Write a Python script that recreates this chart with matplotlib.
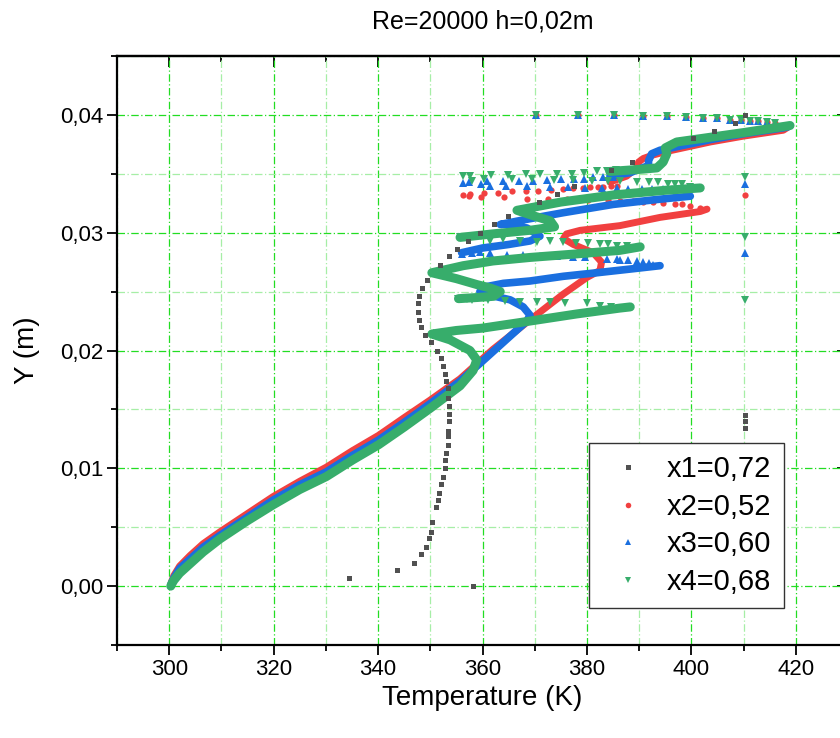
import numpy as np
import matplotlib
matplotlib.use("Agg")
import matplotlib.pyplot as plt
from matplotlib.ticker import MultipleLocator, FuncFormatter
from matplotlib.lines import Line2D

plt.rcParams['font.family'] = ['Liberation Sans', 'DejaVu Sans']

# ─── data (T in K, Y in m) ──────────────────────────────────────────────
# x1 = 0,72 : sparse squares
x1_T = [334.4, 343.6, 346.8, 348.2, 349.1, 349.8, 350.1, 350.4, 351.0, 351.4, 351.7,
        352.1, 352.4, 352.8, 352.9, 353.1, 353.3, 353.4, 353.4, 353.5, 353.5, 353.5,
        353.4, 353.3, 353.0, 352.8, 352.5, 352.0, 351.2, 350.1, 349.0, 348.2, 347.8,
        347.6, 347.6, 347.9, 348.5, 349.3, 351.9, 353.5, 355.2, 357.3, 359.5, 362.2,
        364.8, 370.9, 374.2, 377.5, 384.7, 388.7, 400.4, 404.4, 408.4, 410.3,
        358.2, 410.2, 410.2, 410.2]
x1_Y = [0.0007, 0.0014, 0.0020, 0.0027, 0.0033, 0.0041, 0.0046, 0.0054, 0.0067, 0.0073, 0.0079,
        0.0087, 0.0093, 0.0100, 0.0107, 0.0113, 0.0120, 0.0127, 0.0132, 0.0140, 0.0146, 0.0153,
        0.0160, 0.0168, 0.0174, 0.0180, 0.0187, 0.0194, 0.0200, 0.0207, 0.0213, 0.0220, 0.0226,
        0.0233, 0.0240, 0.0246, 0.0253, 0.0260, 0.0273, 0.0280, 0.0286, 0.0293, 0.0300, 0.0307,
        0.0314, 0.0326, 0.0333, 0.0340, 0.0353, 0.0360, 0.0380, 0.0386, 0.0393, 0.0400,
        0.0000, 0.0145, 0.0140, 0.0134]

# row of sparse points near Y = 0,04 (shared by x2, x3, x4)
top_T = [370.2, 378.2, 385.2, 390.7, 395.3, 399.0, 402.3, 405.0, 407.4, 409.5, 411.2, 412.8, 414.4, 416.0]
top_Y = [0.0400, 0.0400, 0.0400, 0.0399, 0.0399, 0.0398, 0.0397, 0.0397, 0.0396, 0.0396, 0.0395, 0.0395, 0.0394, 0.0393]

# x2 = 0,52 : dense parts
x2_b1_T = [300.3, 300.4, 300.9, 302.0, 304.0, 306.5, 309.7, 314.8, 319.9, 325.0, 330.1, 335.1, 340.1,
           345.0, 350.0, 355.7, 362.0, 369.1, 375.5, 380.0, 382.5, 382.8, 381.2, 377.4, 375.5,
           376.1, 378.7, 386.3, 394.0, 401.7, 403.0]
x2_b1_Y = [0.0000, 0.0003, 0.0009, 0.0017, 0.0026, 0.0036, 0.0046, 0.0061, 0.0076, 0.0089, 0.0101, 0.0115, 0.0128,
           0.0143, 0.0158, 0.0176, 0.0201, 0.0226, 0.0248, 0.0262, 0.0268, 0.0275, 0.0283, 0.0290, 0.0295,
           0.0299, 0.0302, 0.0306, 0.0313, 0.0318, 0.0320]
x2_b2_T = [384.4, 387.6, 389.5, 389.9, 390.8, 392.7, 395.3, 403.6, 410.0, 417.6, 418.3]
x2_b2_Y = [0.0343, 0.0348, 0.0355, 0.0360, 0.0363, 0.0366, 0.0369, 0.0377, 0.0382, 0.0387, 0.0389]
# x2 sparse points
x2_pts_T = [401.7, 399.8, 398.2, 396.9, 394.6, 392.7, 390.8, 388.9, 386.3, 384.0, 380.2, 376.2, 372.5,
            368.5, 364.1, 359.8, 357.5, 356.3,
            357.6, 360.3, 363.0, 365.6, 368.3, 370.7, 373.1, 375.4, 377.4, 379.2, 380.6, 382.2,
            383.1, 384.7, 385.7, 410.2]
x2_pts_Y = [0.0321, 0.0323, 0.0324, 0.0324, 0.0325, 0.0326, 0.0326, 0.0327, 0.0327, 0.0328, 0.0328, 0.0329, 0.0329,
            0.0329, 0.0330, 0.0330, 0.0331, 0.0332,
            0.0333, 0.0334, 0.0334, 0.0335, 0.0335, 0.0335, 0.0336, 0.0337, 0.0338, 0.0338, 0.0339, 0.0339,
            0.0339, 0.0340, 0.0340, 0.0332]

# x3 = 0,60 : dense parts
x3_b1_T = [300.3, 300.4, 300.9, 302.0, 304.0, 306.5, 309.7, 314.8, 319.9, 325.0, 330.1, 335.1, 340.1,
           345.0, 350.0, 355.7, 359.5, 364.0, 368.5, 369.1, 367.8, 365.3, 361.4, 359.5, 360.5,
           364.0, 369.1, 375.5, 381.9, 388.0, 394.0]
x3_b1_Y = [0.0000, 0.0002, 0.0007, 0.0015, 0.0023, 0.0033, 0.0043, 0.0058, 0.0073, 0.0086, 0.0097, 0.0111, 0.0124,
           0.0139, 0.0155, 0.0174, 0.0189, 0.0207, 0.0225, 0.0230, 0.0237, 0.0243, 0.0247, 0.0250, 0.0254,
           0.0257, 0.0259, 0.0263, 0.0266, 0.0269, 0.0272]
x3_b2_T = [356.0, 360.0, 365.0, 369.1, 371.0, 368.5, 364.6, 363.4, 368.0, 375.5, 385.0, 393.0, 399.8]
x3_b2_Y = [0.0283, 0.0287, 0.0290, 0.0293, 0.0297, 0.0304, 0.0307, 0.0307, 0.0311, 0.0317, 0.0324, 0.0328, 0.0331]
x3_b3_T = [384.4, 388.3, 391.8, 391.8, 392.4, 394.0, 403.6, 410.0, 417.6, 418.6]
x3_b3_Y = [0.0348, 0.0351, 0.0357, 0.0361, 0.0367, 0.0370, 0.0379, 0.0384, 0.0389, 0.0390]
# x3 sparse points
x3_pts_T = [392.7, 391.8, 390.8, 389.5, 387.9, 386.3, 385.7, 383.8, 379.6, 377.4, 374.2, 371.0,
            367.8, 364.6, 361.4, 359.5, 357.9, 356.0,
            398.2, 396.2, 394.6, 392.4, 390.5, 387.9, 385.7, 382.8, 379.6, 376.3, 373.0, 368.6,
            364.5, 361.4, 359.8, 356.3,
            357.5, 360.9, 364.0, 366.9, 369.7, 372.4, 375.0, 377.5, 379.4, 381.2, 383.1, 384.9,
            410.2, 410.2]
x3_pts_Y = [0.0273, 0.0274, 0.0275, 0.0276, 0.0277, 0.0277, 0.0278, 0.0278, 0.0279, 0.0279, 0.0280, 0.0280,
            0.0281, 0.0281, 0.0283, 0.0284, 0.0283, 0.0282,
            0.0337, 0.0337, 0.0337, 0.0337, 0.0337, 0.0337, 0.0338, 0.0338, 0.0338, 0.0339, 0.0339, 0.0340,
            0.0340, 0.0340, 0.0341, 0.0342,
            0.0343, 0.0344, 0.0344, 0.0344, 0.0344, 0.0345, 0.0346, 0.0346, 0.0346, 0.0347, 0.0347, 0.0347,
            0.0341, 0.0283]

# x4 = 0,68 : dense parts
x4_b1_T = [300.3, 300.5, 300.9, 302.0, 304.0, 306.5, 309.7, 314.8, 319.9, 325.0, 330.1, 335.1, 340.1,
           345.0, 350.0, 355.7, 358.2, 358.9, 357.6, 353.8, 350.3, 355.0, 360.0, 369.1, 378.0,
           386.3, 388.3]
x4_b1_Y = [0.0000, 0.0002, 0.0005, 0.0011, 0.0019, 0.0029, 0.0040, 0.0055, 0.0069, 0.0082, 0.0093, 0.0107, 0.0120,
           0.0135, 0.0151, 0.0170, 0.0183, 0.0192, 0.0200, 0.0209, 0.0214, 0.0217, 0.0219, 0.0225, 0.0231,
           0.0236, 0.0237]
x4_b2_T = [355.4, 359.0, 362.1, 363.4, 361.5, 358.9, 355.0, 350.3, 356.3, 362.0, 369.1, 378.0, 386.3, 390.2]
x4_b2_Y = [0.0244, 0.0245, 0.0246, 0.0250, 0.0253, 0.0256, 0.0261, 0.0266, 0.0272, 0.0276, 0.0279, 0.0282, 0.0285, 0.0288]
x4_b3_T = [355.7, 362.0, 369.0, 373.8, 373.0, 370.0, 366.6, 375.0, 385.0, 395.0, 401.7]
x4_b3_Y = [0.0296, 0.0299, 0.0302, 0.0305, 0.0310, 0.0314, 0.0319, 0.0326, 0.0332, 0.0336, 0.0338]
x4_b4_T = [384.4, 387.6, 390.8, 393.4, 394.6, 395.3, 395.0, 397.2, 403.6, 410.0, 418.9]
x4_b4_Y = [0.0352, 0.0353, 0.0354, 0.0355, 0.0360, 0.0367, 0.0372, 0.0377, 0.0381, 0.0385, 0.0391]
# x4 sparse points
x4_pts_T = [386.3, 384.7, 382.5, 380.0, 375.8, 372.9, 370.4, 367.2, 364.3, 361.1, 357.9, 357.0, 355.4,
            387.6, 385.7, 384.1, 382.5, 380.3, 378.0, 375.5, 372.9, 370.4, 367.2, 364.0, 361.4,
            359.8, 357.0, 355.7,
            399.8, 398.2, 396.9, 395.6, 393.7, 391.8, 389.5, 386.3, 384.1, 380.9, 377.4, 373.6,
            369.4, 365.6, 357.9, 356.3,
            357.6, 360.2, 361.6, 364.9, 368.3, 371.0, 374.2, 377.1, 379.4, 381.9, 383.8, 385.6,
            410.2, 410.2, 410.2]
x4_pts_Y = [0.0236, 0.0237, 0.0238, 0.0240, 0.0240, 0.0241, 0.0241, 0.0241, 0.0242, 0.0243, 0.0243, 0.0244, 0.0244,
            0.0289, 0.0289, 0.0290, 0.0290, 0.0291, 0.0291, 0.0292, 0.0293, 0.0292, 0.0293, 0.0295, 0.0293,
            0.0297, 0.0295, 0.0296,
            0.0339, 0.0341, 0.0341, 0.0341, 0.0343, 0.0343, 0.0343, 0.0344, 0.0344, 0.0344, 0.0345, 0.0345,
            0.0346, 0.0346, 0.0344, 0.0348,
            0.0348, 0.0346, 0.0349, 0.0349, 0.0350, 0.0350, 0.0350, 0.0350, 0.0351, 0.0352, 0.0352, 0.0353,
            0.0347, 0.0296, 0.0243]

labels = ["x1=0,72", "x2=0,52", "x3=0,60", "x4=0,68"]
C_K, C_R, C_B, C_G = "#515151", "#F14040", "#1A6FDF", "#37AD6B"

# ─── figure ──────────────────────────────────────────────────────────────
fig = plt.figure(figsize=(8.4, 7.38), dpi=100)
ax = fig.add_axes([117/840, 93/738, 731/840, 589/738])

band = dict(solid_capstyle="round", solid_joinstyle="round")
# x2 (red)
for t, y in [(x2_b1_T, x2_b1_Y), (x2_b2_T, x2_b2_Y)]:
    ax.plot(t, y, color=C_R, lw=5, zorder=2, **band)
ax.plot(x2_pts_T, x2_pts_Y, "o", color=C_R, ms=4.5, mew=0, zorder=2)
ax.plot(top_T, top_Y, "o", color=C_R, ms=4.5, mew=0, zorder=2)
# x3 (blue)
for t, y in [(x3_b1_T, x3_b1_Y), (x3_b2_T, x3_b2_Y), (x3_b3_T, x3_b3_Y)]:
    ax.plot(t, y, color=C_B, lw=5.5, zorder=3, **band)
ax.plot(x3_pts_T, x3_pts_Y, "^", color=C_B, ms=5.5, mew=0, zorder=3)
ax.plot(top_T, top_Y, "^", color=C_B, ms=5.5, mew=0, zorder=3)
# x4 (green)
for t, y in [(x4_b1_T, x4_b1_Y), (x4_b2_T, x4_b2_Y), (x4_b3_T, x4_b3_Y), (x4_b4_T, x4_b4_Y)]:
    ax.plot(t, y, color=C_G, lw=6.5, zorder=4, **band)
ax.plot(x4_pts_T, x4_pts_Y, "v", color=C_G, ms=5.5, mew=0, zorder=4)
ax.plot(top_T, top_Y, "v", color=C_G, ms=5.5, mew=0, zorder=4)
# x1 (black squares)
ax.plot(x1_T, x1_Y, "s", color=C_K, ms=3.6, mew=0, zorder=5)

# ─── axes styling ────────────────────────────────────────────────────────
ax.set_xlim(290, 430)
ax.set_ylim(-0.005, 0.045)
ax.xaxis.set_major_locator(MultipleLocator(20))
ax.xaxis.set_minor_locator(MultipleLocator(10))
ax.yaxis.set_major_locator(MultipleLocator(0.01))
ax.yaxis.set_minor_locator(MultipleLocator(0.005))
ax.yaxis.set_major_formatter(FuncFormatter(lambda v, p: f"{abs(v) if abs(v) < 1e-9 else v:.2f}".replace(".", ",")))

ax.set_axisbelow(True)
ax.grid(which="major", color="#22dd22", ls=(0, (6, 2, 1, 2)), lw=0.9)
ax.grid(which="minor", color="#a6eea6", ls=(0, (6, 2, 1, 2)), lw=0.9)

for s in ax.spines.values():
    s.set_linewidth(1.6)
ax.tick_params(which="major", direction="out", length=7, width=1.3, labelsize=16, pad=3)
ax.tick_params(which="minor", direction="out", length=4, width=1.3)

top = ax.secondary_xaxis("top")
top.xaxis.set_major_locator(MultipleLocator(20))
top.xaxis.set_minor_locator(MultipleLocator(10))
top.tick_params(which="major", direction="in", length=8, width=1.3, labeltop=False)
top.tick_params(which="minor", direction="in", length=4, width=1.3)
top.spines["top"].set_linewidth(1.6)
right = ax.secondary_yaxis("right")
right.yaxis.set_major_locator(MultipleLocator(0.01))
right.yaxis.set_minor_locator(MultipleLocator(0.005))
right.tick_params(which="major", direction="in", length=8, width=1.3, labelright=False)
right.tick_params(which="minor", direction="in", length=4, width=1.3)

ax.set_xlabel("Temperature (K)", fontsize=20, labelpad=4)
ax.set_ylabel("Y (m)", fontsize=20, labelpad=14)
ax.set_title("Re=20000 h=0,02m", fontsize=18, pad=20)

handles = [Line2D([], [], ls="none", marker="s", color=C_K, ms=3.6, mew=0),
           Line2D([], [], ls="none", marker="o", color=C_R, ms=4, mew=0),
           Line2D([], [], ls="none", marker="^", color=C_B, ms=5, mew=0),
           Line2D([], [], ls="none", marker="v", color=C_G, ms=5, mew=0)]
leg = ax.legend(handles, labels, loc="upper left", bbox_to_anchor=(589/840, 1 - 443/738),
                bbox_transform=fig.transFigure, fontsize=21, frameon=True, fancybox=False,
                edgecolor="#333333", framealpha=1, borderaxespad=0, borderpad=0.42,
                handlelength=1.8, handletextpad=0.45, labelspacing=0.33)
leg.get_frame().set_linewidth(1.0)
leg.set_zorder(10)

fig.savefig("out.png", dpi=100)
